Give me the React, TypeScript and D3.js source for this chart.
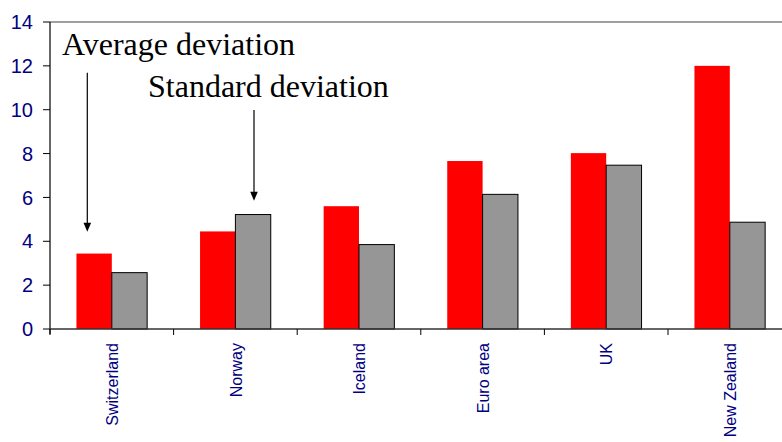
import React from "react";
import * as d3 from "d3";

const categories = ["Switzerland", "Norway", "Iceland", "Euro area", "UK", "New Zealand"];
const averageDeviation = [3.44, 4.45, 5.6, 7.66, 8.02, 12.0];
const standardDeviation = [2.57, 5.22, 3.85, 6.14, 7.47, 4.87];
const yTicks = [0, 2, 4, 6, 8, 10, 12, 14];

const W = 782;
const H = 442;
const left = 50;
const right = 791.6;
const top = 22;
const bottom = 329;

function Arrow({ x, y1, y2 }: { x: number; y1: number; y2: number }) {
  const hl = 9;
  const hw = 3.8;
  return (
    <g>
      <line x1={x} x2={x} y1={y1} y2={y2 - hl + 1} stroke="#000" strokeWidth={1.2} />
      <path d={`M${x - hw},${y2 - hl} L${x + hw},${y2 - hl} L${x},${y2} Z`} fill="#000" />
    </g>
  );
}

export default function App() {
  const x = d3.scaleBand<string>().domain(categories).range([left, right]).paddingInner(0.428).paddingOuter(0.214);
  const y = d3.scaleLinear().domain([0, 14]).range([bottom, top]);
  const bw = x.bandwidth() / 2;
  const step = x.step();
  const navy = "#000080";
  return (
    <svg width={W} height={H} style={{ position: "absolute", left: 0, top: 0, background: "#fff" }}>
      {/* top border */}
      <line x1={left} x2={W} y1={top} y2={top} stroke="#808080" strokeWidth={1.5} />
      {/* bars */}
      {categories.map((c, i) => {
        const x0 = x(c)!;
        return (
          <g key={c}>
            <rect x={x0} y={y(averageDeviation[i])} width={bw} height={bottom - y(averageDeviation[i])} fill="#ff0000" />
            <rect x={x0 + bw} y={y(standardDeviation[i])} width={bw} height={bottom - y(standardDeviation[i])} fill="#969696" stroke="#000" strokeWidth={1} />
          </g>
        );
      })}
      {/* y axis */}
      <line x1={left} x2={left} y1={top} y2={bottom + 5} stroke="#000" strokeWidth={1.2} />
      {yTicks.map((t) => (
        <g key={t}>
          <line x1={left - 7} x2={left} y1={y(t)} y2={y(t)} stroke="#000" strokeWidth={1} />
          <text x={33} y={y(t)} dy="0.36em" textAnchor="end" fill={navy} fontFamily="Liberation Sans, Arial, sans-serif" fontSize={20}>
            {t}
          </text>
        </g>
      ))}
      {/* x axis */}
      <line x1={left} x2={W} y1={bottom} y2={bottom} stroke="#333" strokeWidth={1.5} />
      {categories.map((c, i) => (
        <line key={"t" + c} x1={left + i * step} x2={left + i * step} y1={bottom} y2={bottom + 6} stroke="#000" strokeWidth={1} />
      ))}
      {categories.map((c) => {
        const cx = x(c)! + x.bandwidth() / 2;
        return (
          <text
            key={"l" + c}
            transform={`translate(${cx + 0.5},${bottom + 14}) rotate(-90)`}
            dy="0.36em"
            textAnchor="end"
            fill={navy}
            fontFamily="Liberation Sans, Arial, sans-serif"
            fontSize={16}
          >
            {c}
          </text>
        );
      })}
      {/* annotations */}
      <text x={62} y={55} fontFamily="Liberation Serif, Times New Roman, serif" fontSize={32} fill="#000">
        Average deviation
      </text>
      <text x={148} y={96.7} fontFamily="Liberation Serif, Times New Roman, serif" fontSize={32} fill="#000">
        Standard deviation
      </text>
      <Arrow x={87.3} y1={72.7} y2={231.7} />
      <Arrow x={254} y1={110} y2={200.7} />
    </svg>
  );
}
